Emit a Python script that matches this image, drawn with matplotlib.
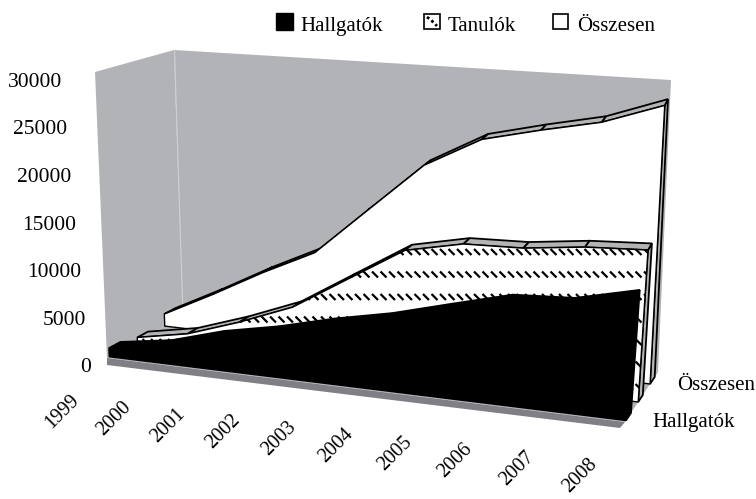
import numpy as np
import matplotlib
matplotlib.use('Agg')
import matplotlib.pyplot as plt
from matplotlib.patches import Polygon, Rectangle
from matplotlib.collections import LineCollection

plt.rcParams['font.family'] = ['Liberation Serif', 'DejaVu Sans']

years = ['1999', '2000', '2001', '2002', '2003', '2004', '2005', '2006', '2007', '2008']
hallgatok = [900, 1760, 3400, 4560, 6050, 7300, 8950, 10580, 10950, 12470]
tanulok = [400, 1450, 3350, 5600, 9200, 12850, 14150, 14350, 15100, 15450]
osszesen = [1330, 4120, 7120, 9870, 15060, 20330, 23550, 25000, 26300, 28500]
y_ticks = [0, 5000, 10000, 15000, 20000, 25000, 30000]
y_max = 30000

# corners of the 3d box in pixels: (front/back, bottom/top, left/right)
F0L = np.array([107, 358.])
F0R = np.array([625, 422.])
FTL = np.array([95, 72.])
FTR = np.array([648, 125.])
B0L = np.array([183, 316.])
B0R = np.array([658, 372.])
BTL = np.array([174, 50.])
BTR = np.array([671, 80.])
K = 1.11  # left side is further away, so years get closer there

WALL = '#b2b3b6'
FLOOR = '#7f7f85'
RIBBON = '#b4b4b6'


def proj(i, v, d):
    # category index, value, depth (0 front, 1 back) -> pixel position
    u = np.asarray(i, dtype=float) / (len(years) - 1)
    t = u / (K + (1 - K) * u)
    h = np.asarray(v, dtype=float) / y_max
    front0 = np.outer(1 - t, F0L) + np.outer(t, F0R)
    frontT = np.outer(1 - t, FTL) + np.outer(t, FTR)
    back0 = np.outer(1 - t, B0L) + np.outer(t, B0R)
    backT = np.outer(1 - t, BTL) + np.outer(t, BTR)
    bottom = (1 - d) * front0 + d * back0
    top = (1 - d) * frontT + d * backT
    return bottom * (1 - h)[:, None] + top * h[:, None]


def draw_series(ax, values, d0, d1, face, side, hatch=False):
    idx = np.arange(len(values))
    zero = np.zeros(len(values))
    front = proj(idx, values, d0)
    back = proj(idx, values, d1)
    base = proj(idx, zero, d0)
    # end of the ribbon on the right
    end = np.array([proj([9], [0], d0)[0], proj([9], [values[-1]], d0)[0],
                    proj([9], [values[-1]], d1)[0], proj([9], [0], d1)[0]])
    ax.add_patch(Polygon(end, closed=True, fc=side, ec='black', lw=1.3, zorder=2))
    # top of the ribbon, segment by segment
    for i in range(len(values) - 1):
        quad = np.array([front[i], front[i + 1], back[i + 1], back[i]])
        ax.add_patch(Polygon(quad, closed=True, fc=side, ec='black', lw=1.3, zorder=2))
    poly = np.vstack([front, base[::-1]])
    patch = Polygon(poly, closed=True, fc=face, ec='black', lw=1.0, zorder=2)
    ax.add_patch(patch)
    if hatch:
        # rows of short slanted ticks like the excel pattern
        segs = []
        for row in np.arange(252 - 22.5 * 2, 500, 22.5):
            for x in np.arange(100, 700, 8.5):
                segs.append([(x, row - 3), (x + 6, row + 3)])
        lc = LineCollection(segs, colors='black', linewidths=1.6, zorder=2.1)
        ax.add_collection(lc)
        lc.set_clip_path(patch)


fig = plt.figure(figsize=(7.56, 4.99), dpi=100)
ax = fig.add_axes([0, 0, 1, 1])
ax.set_xlim(0, 756)
ax.set_ylim(499, 0)
ax.axis('off')

# walls and floor, the floor has a thin front side
ax.add_patch(Polygon([F0L, FTL, BTL, B0L], closed=True, fc=WALL, ec='none', zorder=1))
ax.add_patch(Polygon([B0L, BTL, BTR, B0R], closed=True, fc=WALL, ec='none', zorder=1))
ax.add_patch(Polygon([F0L, F0R, B0R, B0L], closed=True, fc=WALL, ec='none', zorder=1))
ax.add_patch(Polygon([F0L, F0R, F0R + [-5, 6], F0L + [0, 7]], closed=True, fc=FLOOR, ec='none', zorder=1))
ax.plot([BTL[0] + 0.5, B0L[0]], [BTL[1], B0L[1]], color='#d0d0d2', lw=0.8, zorder=1.1)

draw_series(ax, osszesen, 0.76, 0.90, 'white', RIBBON)
draw_series(ax, tanulok, 0.40, 0.54, 'white', RIBBON, hatch=True)
draw_series(ax, hallgatok, 0.03, 0.18, 'black', 'black')

# y axis labels
for v in y_ticks:
    p = proj([0], [v], 0)[0]
    ax.text(p[0] - 16 - 17 * v / y_max, p[1] + 10, str(v), ha='right', va='center', fontsize=15.5)

# year labels
base = proj(np.arange(len(years)), np.zeros(len(years)), 0)
for lab, p in zip(years, base):
    ax.text(p[0] - 45, p[1] + 54, lab, rotation=45, ha='center', va='center', fontsize=14.5)

# depth labels
ax.text(677, 385, 'Összesen', ha='left', va='center', fontsize=15)
ax.text(652, 422, 'Hallgatók', ha='left', va='center', fontsize=15)

# legend
ax.add_patch(Rectangle((276, 13), 17, 17, fc='black', ec='black', lw=1))
ax.text(300, 26, 'Hallgatók', ha='left', va='center', fontsize=15)
ax.add_patch(Rectangle((424, 14), 16, 15, fc='white', ec='black', lw=1.2))
ax.plot([427, 431, 433, 437], [17, 20, 22, 26], color='black', lw=2, ls=(0, (1, 1)))
ax.text(448, 26, 'Tanulók', ha='left', va='center', fontsize=15)
ax.add_patch(Rectangle((553, 14), 15, 15, fc='white', ec='black', lw=1.2))
ax.text(577, 26, 'Összesen', ha='left', va='center', fontsize=15)

fig.savefig('out.png', dpi=100)
